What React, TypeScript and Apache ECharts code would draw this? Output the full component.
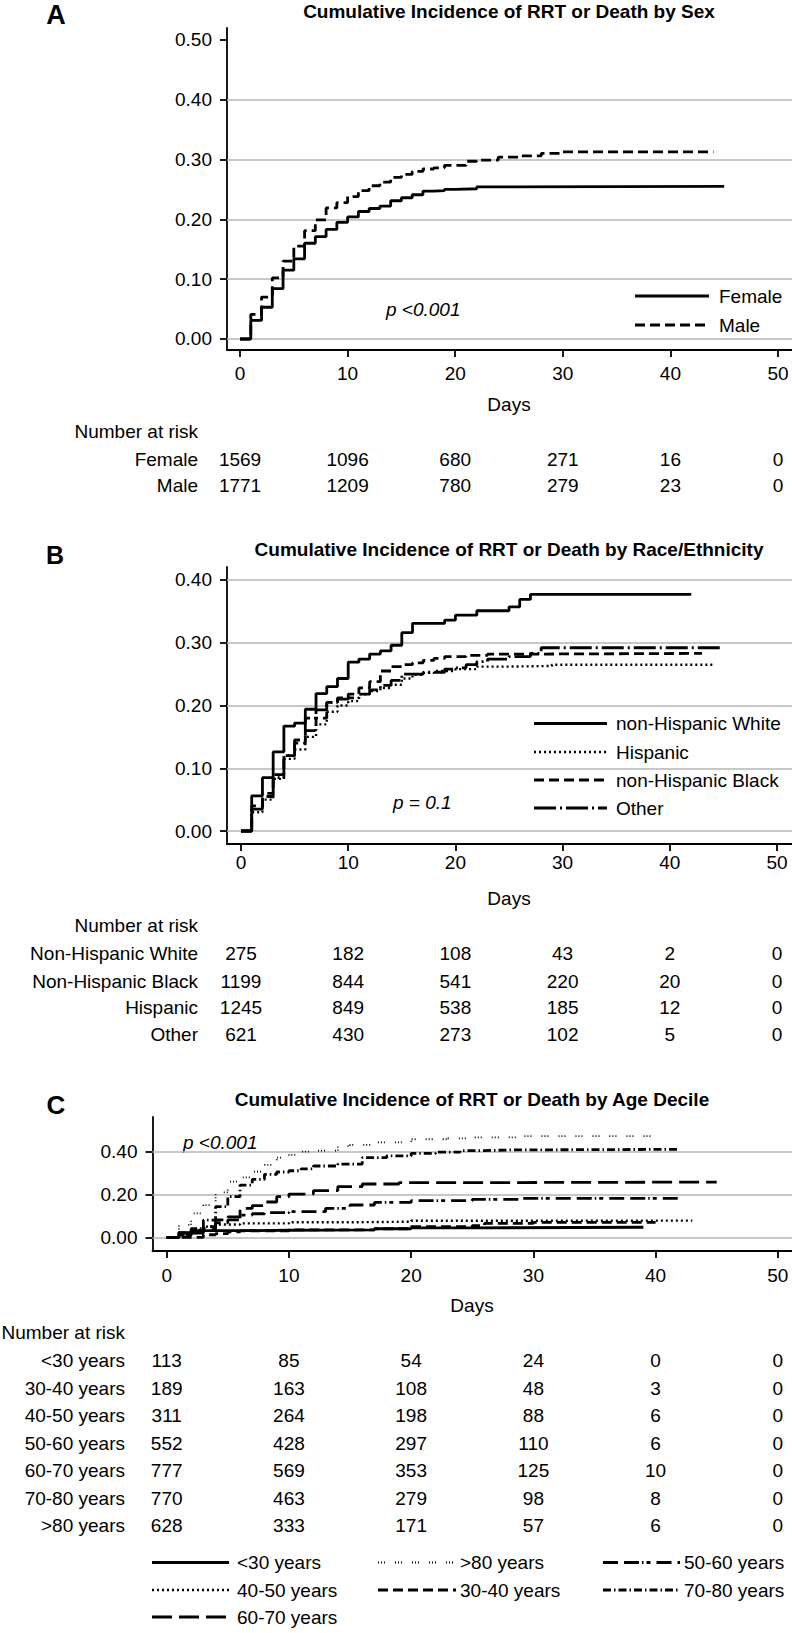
import React, { useEffect, useRef } from 'react';
import * as echarts from 'echarts';

// ---------- Panel A: by sex ----------
const femaleDays = [0, 1, 2, 3, 4, 5, 6, 7, 8, 9, 10, 11, 12, 13, 14, 15, 16, 17, 18, 19, 20, 22, 25, 45];
const femaleCI = [0, 0.031, 0.053, 0.084, 0.115, 0.134, 0.16, 0.171, 0.183, 0.195, 0.204, 0.213, 0.218, 0.222, 0.231, 0.236, 0.241, 0.247, 0.248, 0.25, 0.251, 0.254, 0.255, 0.255];
const maleDays = [0, 1, 2, 3, 4, 5, 6, 7, 8, 9, 10, 11, 12, 13, 14, 15, 16, 17, 18, 19, 21, 22, 24, 26, 28, 30, 44];
const maleCI = [0, 0.041, 0.07, 0.102, 0.13, 0.155, 0.181, 0.199, 0.219, 0.228, 0.238, 0.248, 0.256, 0.262, 0.27, 0.275, 0.28, 0.284, 0.286, 0.29, 0.297, 0.299, 0.304, 0.306, 0.31, 0.3125, 0.3125];

// ---------- Panel B: by race/ethnicity ----------
const whiteDays = [0, 1, 2, 3, 4, 5, 6, 7, 8, 9, 10, 11, 12, 13, 14, 15, 16, 19, 20, 22, 25, 26, 27, 42];
const whiteCI = [0, 0.056, 0.085, 0.126, 0.167, 0.172, 0.194, 0.219, 0.23, 0.243, 0.269, 0.274, 0.282, 0.287, 0.296, 0.316, 0.331, 0.336, 0.344, 0.351, 0.357, 0.369, 0.377, 0.377];
const hispDays = [0, 1, 2, 3, 4, 5, 6, 7, 8, 9, 10, 11, 12, 13, 14, 15, 16, 17, 18, 20, 22, 25, 29, 44];
const hispCI = [0, 0.03, 0.05, 0.083, 0.115, 0.13, 0.15, 0.17, 0.19, 0.2, 0.207, 0.218, 0.223, 0.228, 0.233, 0.243, 0.249, 0.252, 0.255, 0.258, 0.262, 0.263, 0.265, 0.265];
const blackDays = [0, 1, 2, 3, 4, 5, 6, 7, 8, 9, 10, 11, 12, 13, 14, 15, 16, 17, 18, 19, 21, 23, 28, 43];
const blackCI = [0, 0.04, 0.055, 0.09, 0.12, 0.14, 0.16, 0.18, 0.205, 0.212, 0.218, 0.228, 0.238, 0.255, 0.262, 0.265, 0.268, 0.272, 0.275, 0.278, 0.28, 0.282, 0.283, 0.283];
const otherDays = [0, 1, 2, 3, 4, 5, 6, 7, 8, 9, 10, 11, 12, 13, 14, 15, 17, 19, 20, 21, 22, 23, 25, 27, 28, 45];
const otherCI = [0, 0.035, 0.06, 0.085, 0.12, 0.145, 0.18, 0.193, 0.205, 0.21, 0.212, 0.218, 0.225, 0.232, 0.24, 0.25, 0.253, 0.258, 0.26, 0.265, 0.27, 0.274, 0.278, 0.283, 0.292, 0.292];

// ---------- Panel C: by age decile ----------
const ageU30Days = [0, 1, 2, 6, 10, 17, 20, 25, 39];
const ageU30CI = [0, 0.022, 0.031, 0.033, 0.035, 0.04, 0.044, 0.047, 0.048];
const age3040Days = [0, 3, 4, 5, 6, 10, 17, 20, 25, 26, 30, 40];
const age3040CI = [0, 0.012, 0.017, 0.025, 0.03, 0.035, 0.04, 0.05, 0.055, 0.065, 0.07, 0.07];
const age4050Days = [0, 1, 2, 3, 4, 6, 10, 15, 20, 30, 43];
const age4050CI = [0, 0.02, 0.035, 0.05, 0.06, 0.065, 0.07, 0.073, 0.077, 0.078, 0.08];
const age5060Days = [0, 1, 2, 3, 4, 5, 6, 7, 8, 10, 13, 15, 17, 20, 25, 29, 42];
const age5060CI = [0, 0.01, 0.03, 0.04, 0.068, 0.081, 0.104, 0.11, 0.115, 0.12, 0.135, 0.151, 0.163, 0.171, 0.177, 0.182, 0.182];
const age6070Days = [0, 1, 2, 3, 4, 5, 6, 7, 8, 9, 10, 12, 14, 16, 19, 22, 45];
const age6070CI = [0, 0.01, 0.02, 0.05, 0.081, 0.095, 0.135, 0.148, 0.165, 0.19, 0.202, 0.218, 0.237, 0.249, 0.255, 0.258, 0.258];
const age7080Days = [0, 1, 2, 3, 4, 5, 6, 7, 8, 9, 10, 11, 12, 14, 16, 18, 20, 22, 24, 26, 28, 42];
const age7080CI = [0, 0.02, 0.04, 0.08, 0.143, 0.19, 0.244, 0.271, 0.294, 0.305, 0.311, 0.32, 0.333, 0.342, 0.372, 0.38, 0.392, 0.398, 0.405, 0.408, 0.411, 0.411];
const ageO80Days = [0, 1, 2, 3, 4, 5, 6, 7, 8, 9, 10, 11, 12, 14, 15, 17, 20, 23, 25, 29, 40];
const ageO80CI = [0, 0.058, 0.112, 0.15, 0.21, 0.26, 0.28, 0.307, 0.338, 0.372, 0.385, 0.4, 0.405, 0.426, 0.432, 0.443, 0.458, 0.462, 0.467, 0.473, 0.473];

// ---------- Ticks & number at risk ----------
const dayTicks = [0, 10, 20, 30, 40, 50];
const yTicksA = [0, 0.1, 0.2, 0.3, 0.4, 0.5];
const gridA = [0, 0.1, 0.2, 0.3, 0.4];
const yTicksB = [0, 0.1, 0.2, 0.3, 0.4];
const gridB = [0, 0.1, 0.2, 0.3, 0.4];
const yTicksC = [0, 0.2, 0.4];
const gridC = [0, 0.2, 0.4];

const riskLabelsA = ['Female', 'Male'];
const riskFemale = [1569, 1096, 680, 271, 16, 0];
const riskMale = [1771, 1209, 780, 279, 23, 0];

const riskLabelsB = ['Non-Hispanic White', 'Non-Hispanic Black', 'Hispanic', 'Other'];
const riskNHWhite = [275, 182, 108, 43, 2, 0];
const riskNHBlack = [1199, 844, 541, 220, 20, 0];
const riskHispanic = [1245, 849, 538, 185, 12, 0];
const riskOther = [621, 430, 273, 102, 5, 0];

const riskLabelsC = ['<30 years', '30-40 years', '40-50 years', '50-60 years', '60-70 years', '70-80 years', '>80 years'];
const riskU30 = [113, 85, 54, 24, 0, 0];
const risk3040 = [189, 163, 108, 48, 3, 0];
const risk4050 = [311, 264, 198, 88, 6, 0];
const risk5060 = [552, 428, 297, 110, 6, 0];
const risk6070 = [777, 569, 353, 125, 10, 0];
const risk7080 = [770, 463, 279, 98, 8, 0];
const riskO80 = [628, 333, 171, 57, 6, 0];

const FONT = "'Liberation Sans', Arial, Helvetica, sans-serif";
const FS = 19;
const LW = 2.8;
const DOTW = 2.4;

// line styles
const SOLID: any = 'solid';
const DASH_A = [10, 5];
const DOT = [2, 3];
const DASH_B = [10, 5];
const LONGDASHDOT_B = [22, 4, 2, 4];
const SPARSE_DOT = [1, 2, 1, 2, 1, 10];
const DASH_5060 = [15, 6, 15, 3, 1.5, 3, 4, 6];
const DASH_7080 = [8, 3, 1.5, 3];
const DASH_6070 = [20, 7];
const DASH_3040 = [10, 5];

export default function App() {
  const ref = useRef<HTMLDivElement>(null);

  useEffect(() => {
    document.body.style.margin = '0';
    const chart = echarts.init(ref.current!, null, { renderer: 'svg' });

    const grids = [
      { left: 227, top: 28, width: 565, height: 322 },
      { left: 227, top: 567, width: 565, height: 277 },
      { left: 152.5, top: 1117, width: 639.5, height: 134 },
    ];
    const xRanges = [
      [-1.21, 51.3],
      [-1.306, 51.4],
      [-1.162, 51.16],
    ];
    const yRanges = [
      [-0.0184, 0.5196],
      [-0.0207, 0.4207],
      [-0.064, 0.562],
    ];
    const yTicks = [yTicksA, yTicksB, yTicksC];
    const xMargins = [14, 9, 15];

    const xAxes = grids.map((_, g) => ({
      type: 'value',
      gridIndex: g,
      min: xRanges[g][0],
      max: xRanges[g][1],
      axisLine: { show: true, onZero: false, lineStyle: { color: '#000', width: 1.8 } },
      axisTick: { show: true, length: 7, customValues: dayTicks, lineStyle: { color: '#000', width: 1.8 } },
      axisLabel: {
        customValues: dayTicks,
        fontSize: FS,
        fontFamily: FONT,
        color: '#000',
        margin: xMargins[g],
        formatter: (v: number) => String(Math.round(v)),
      },
      splitLine: { show: false },
    }));
    const yAxes = grids.map((_, g) => ({
      type: 'value',
      gridIndex: g,
      min: yRanges[g][0],
      max: yRanges[g][1],
      axisLine: { show: true, onZero: false, lineStyle: { color: '#000', width: 1.8 } },
      axisTick: { show: true, length: 7, customValues: yTicks[g], lineStyle: { color: '#000', width: 1.8 } },
      axisLabel: {
        customValues: yTicks[g],
        fontSize: FS,
        fontFamily: FONT,
        color: '#000',
        margin: 15,
        formatter: (v: number) => v.toFixed(2),
      },
      splitLine: { show: false },
    }));

    const step = (name: string, days: number[], vals: number[], g: number, type: any, width = LW) => ({
      name,
      type: 'line',
      xAxisIndex: g,
      yAxisIndex: g,
      data: days.map((d, i) => [d, vals[i]]),
      step: 'end',
      symbol: 'none',
      showSymbol: false,
      silent: true,
      z: 3,
      lineStyle: { color: '#000', width, type, cap: 'butt' },
    });
    const gridLines = (g: number, vals: number[]) => ({
      type: 'line',
      xAxisIndex: g,
      yAxisIndex: g,
      data: [[0, 0]],
      symbol: 'none',
      silent: true,
      z: 1,
      lineStyle: { opacity: 0 },
      markLine: {
        silent: true,
        symbol: 'none',
        z: 1,
        label: { show: false },
        lineStyle: { color: '#b4b4b4', width: 1.5, type: 'solid' },
        data: vals.map((v) => ({ yAxis: v })),
      },
    });

    const series = [
      gridLines(0, gridA),
      gridLines(1, gridB),
      gridLines(2, gridC),
      step('Female', femaleDays, femaleCI, 0, SOLID),
      step('Male', maleDays, maleCI, 0, DASH_A),
      step('non-Hispanic White', whiteDays, whiteCI, 1, SOLID),
      step('Hispanic', hispDays, hispCI, 1, DOT, DOTW),
      step('non-Hispanic Black', blackDays, blackCI, 1, DASH_B),
      step('Other', otherDays, otherCI, 1, LONGDASHDOT_B),
      step('<30 years', ageU30Days, ageU30CI, 2, SOLID),
      step('30-40 years', age3040Days, age3040CI, 2, DASH_3040),
      step('40-50 years', age4050Days, age4050CI, 2, DOT, DOTW),
      step('50-60 years', age5060Days, age5060CI, 2, DASH_5060),
      step('60-70 years', age6070Days, age6070CI, 2, DASH_6070),
      step('70-80 years', age7080Days, age7080CI, 2, DASH_7080),
      step('>80 years', ageO80Days, ageO80CI, 2, SPARSE_DOT, 1.8),
    ];

    chart.setOption({
      animation: false,
      backgroundColor: '#fff',
      grid: grids.map((g) => ({ ...g, containLabel: false })),
      xAxis: xAxes,
      yAxis: yAxes,
      series,
    });

    const px = (g: number, day: number) => chart.convertToPixel({ xAxisIndex: g } as any, day) as number;

    const els: any[] = [];
    const text = (t: string, x: number, y: number, opts: any = {}) => {
      els.push({
        type: 'text',
        x,
        y,
        silent: true,
        style: {
          text: t,
          fill: '#000',
          fontSize: opts.fontSize ?? FS,
          fontFamily: FONT,
          fontWeight: opts.bold ? 'bold' : 'normal',
          fontStyle: opts.italic ? 'italic' : 'normal',
          align: opts.align ?? 'left',
          verticalAlign: 'middle',
        },
      });
    };
    const legLine = (x1: number, x2: number, y: number, dash: any, w = LW) => {
      els.push({
        type: 'line',
        silent: true,
        shape: { x1, y1: y, x2, y2: y },
        style: { stroke: '#000', lineWidth: w, lineDash: dash === 'solid' ? null : dash },
      });
    };

    // panel letters and titles
    text('A', 56, 15, { bold: true, fontSize: 27, align: 'center' });
    text('B', 55, 555, { bold: true, fontSize: 25, align: 'center' });
    text('C', 56, 1105, { bold: true, fontSize: 26, align: 'center' });
    text('Cumulative Incidence of RRT or Death by Sex', 509, 11, { bold: true, align: 'center' });
    text('Cumulative Incidence of RRT or Death by Race/Ethnicity', 509, 549, { bold: true, align: 'center' });
    text('Cumulative Incidence of RRT or Death by Age Decile', 472, 1099, { bold: true, align: 'center' });

    // axis titles
    text('Days', 509, 404, { align: 'center' });
    text('Days', 509, 898, { align: 'center' });
    text('Days', 472, 1305, { align: 'center' });

    // p-values
    text('p <0.001', 386, 309.5, { italic: true });
    text('p = 0.1', 393, 802, { italic: true });
    text('p <0.001', 183, 1142, { italic: true });

    // legends
    const legA = [
      { label: 'Female', dash: 'solid', y: 296 },
      { label: 'Male', dash: DASH_A, y: 325 },
    ];
    legA.forEach((l) => {
      legLine(635, 709, l.y, l.dash);
      text(l.label, 719, l.y);
    });
    const legB = [
      { label: 'non-Hispanic White', dash: 'solid', y: 723.5, w: LW },
      { label: 'Hispanic', dash: DOT, y: 752, w: DOTW },
      { label: 'non-Hispanic Black', dash: DASH_B, y: 780, w: LW },
      { label: 'Other', dash: LONGDASHDOT_B, y: 808, w: LW },
    ];
    legB.forEach((l) => {
      legLine(534, 607, l.y, l.dash, l.w);
      text(l.label, 616, l.y);
    });
    const colsC = [
      { x1: 152, x2: 229, tx: 237 },
      { x1: 378, x2: 456, tx: 460 },
      { x1: 603, x2: 680, tx: 684 },
    ];
    const rowsC = [1562.5, 1590, 1617];
    const legC = [
      { label: '<30 years', dash: 'solid', c: 0, r: 0, w: LW },
      { label: '>80 years', dash: SPARSE_DOT, c: 1, r: 0, w: 1.8 },
      { label: '50-60 years', dash: DASH_5060, c: 2, r: 0, w: LW },
      { label: '40-50 years', dash: DOT, c: 0, r: 1, w: DOTW },
      { label: '30-40 years', dash: DASH_3040, c: 1, r: 1, w: LW },
      { label: '70-80 years', dash: DASH_7080, c: 2, r: 1, w: LW },
      { label: '60-70 years', dash: DASH_6070, c: 0, r: 2, w: LW },
    ];
    legC.forEach((l) => {
      const c = colsC[l.c];
      legLine(c.x1, c.x2, rowsC[l.r], l.dash, l.w);
      text(l.label, c.tx, rowsC[l.r]);
    });

    // number at risk tables
    const table = (g: number, labelRight: number, headY: number, rowYs: number[], labels: string[], rows: number[][]) => {
      text('Number at risk', labelRight, headY, { align: 'right' });
      rows.forEach((vals, r) => {
        text(labels[r], labelRight, rowYs[r], { align: 'right' });
        vals.forEach((v, i) => text(String(v), px(g, dayTicks[i]), rowYs[r], { align: 'center' }));
      });
    };
    table(0, 198, 431.7, [459.4, 485.6], riskLabelsA, [riskFemale, riskMale]);
    table(1, 198, 925, [953.5, 981, 1007, 1034], riskLabelsB, [riskNHWhite, riskNHBlack, riskHispanic, riskOther]);
    table(2, 125, 1332.5, [1360, 1388, 1415.5, 1443, 1470.5, 1498, 1525], riskLabelsC, [
      riskU30,
      risk3040,
      risk4050,
      risk5060,
      risk6070,
      risk7080,
      riskO80,
    ]);

    chart.setOption({ graphic: { elements: els } });

    return () => chart.dispose();
  }, []);

  return (
    <div
      ref={ref}
      style={{ position: 'absolute', left: 0, top: 0, width: 792, height: 1633, background: '#fff' }}
    />
  );
}
